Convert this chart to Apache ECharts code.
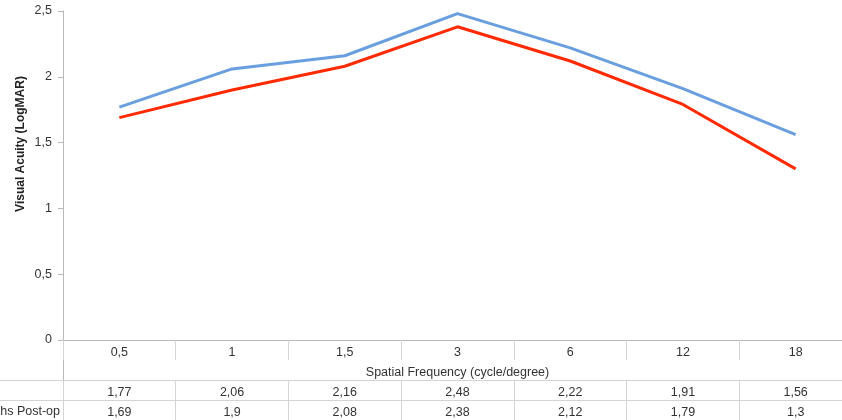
<!DOCTYPE html>
<html>
<head>
<meta charset="utf-8">
<script src="https://cdn.jsdelivr.net/npm/echarts@6/dist/echarts.min.js"></script>
<style>
html,body{margin:0;padding:0;background:#fff;}
#chart{width:842px;height:420px;}
</style>
</head>
<body>
<div id="chart"></div>
<script>
const categories = ['0,5', '1', '1,5', '3', '6', '12', '18'];
const seriesA = [1.77, 2.06, 2.16, 2.48, 2.22, 1.91, 1.56];
const seriesB = [1.69, 1.9, 2.08, 2.38, 2.12, 1.79, 1.3];
const seriesAName = 'Pre-op';
const seriesBName = '6 Months Post-op';
const yTicks = [0, 0.5, 1, 1.5, 2, 2.5];

const fmt = v => String(v).replace('.', ',');
const FONT = 'Liberation Sans';
const FS = 12.5;
const TXT = '#333';
const GRID_LINE = '#d4d4d4';

const chart = echarts.init(document.getElementById('chart'), null, {renderer: 'canvas'});
const tableAxis = (labels, offset, tickLen) => ({
  type: 'category', position: 'bottom', offset: offset,
  data: labels, boundaryGap: true,
  axisLine: {show: true, lineStyle: {color: GRID_LINE, width: 1}},
  axisTick: {show: true, interval: 0, length: tickLen, lineStyle: {color: GRID_LINE}},
  axisLabel: {margin: 6, color: TXT, fontFamily: FONT, fontSize: FS, interval: 0},
  splitLine: {show: false}
});

chart.setOption({
  animation: false,
  backgroundColor: '#fff',
  grid: {left: 63, width: 789, top: 11, height: 329, containLabel: false, outerBoundsMode: 'none'},
  xAxis: [
    {
      type: 'category', data: categories, boundaryGap: true, position: 'bottom',
      axisLine: {show: true, lineStyle: {color: '#b8b8b8', width: 1}},
      axisTick: {show: true, interval: 0, length: 20, lineStyle: {color: GRID_LINE}},
      axisLabel: {margin: 6, color: TXT, fontFamily: FONT, fontSize: FS, interval: 0},
      name: 'Spatial Frequency (cycle/degree)', nameLocation: 'middle', nameGap: 26,
      nameTextStyle: {color: TXT, fontFamily: FONT, fontSize: FS}
    },
    tableAxis(seriesA.map(fmt), 40, 40),
    tableAxis(seriesB.map(fmt), 60, 20)
  ],
  yAxis: {
    type: 'value', min: yTicks[0], max: yTicks[yTicks.length - 1], interval: 0.5,
    axisLine: {show: true, lineStyle: {color: '#b8b8b8', width: 1}},
    axisTick: {show: true, length: 5, lineStyle: {color: '#b8b8b8'}},
    axisLabel: {margin: 11, color: TXT, fontFamily: FONT, fontSize: FS, formatter: v => fmt(v)},
    splitLine: {show: false}
  },
  series: [
    {name: seriesAName, type: 'line', data: seriesA, xAxisIndex: 0, symbol: 'none',
     lineStyle: {color: '#6a9fdf', width: 3}, itemStyle: {color: '#6a9fdf'}},
    {name: seriesBName, type: 'line', data: seriesB, xAxisIndex: 0, symbol: 'none',
     lineStyle: {color: '#ff2a00', width: 3}, itemStyle: {color: '#ff2a00'}}
  ],
  graphic: [
    {type: 'line', shape: {x1: 0, y1: 380.5, x2: 63, y2: 380.5}, style: {stroke: GRID_LINE, lineWidth: 1}},
    {type: 'line', shape: {x1: 0, y1: 400.5, x2: 63, y2: 400.5}, style: {stroke: GRID_LINE, lineWidth: 1}},
    {type: 'line', shape: {x1: 63.5, y1: 340, x2: 63.5, y2: 420}, style: {stroke: '#b8b8b8', lineWidth: 1}},
    {type: 'text', x: 60, y: 411.5, style: {text: seriesBName, textAlign: 'right', textVerticalAlign: 'middle',
      fill: TXT, font: FS + 'px "Liberation Sans"'}},
    {type: 'text', x: 21, y: 144, rotation: Math.PI / 2, style: {text: 'Visual Acuity (LogMAR)', textAlign: 'center',
      textVerticalAlign: 'middle', fill: '#222', font: 'bold 12px "Liberation Sans"'}}
  ]
});
</script>
</body>
</html>
